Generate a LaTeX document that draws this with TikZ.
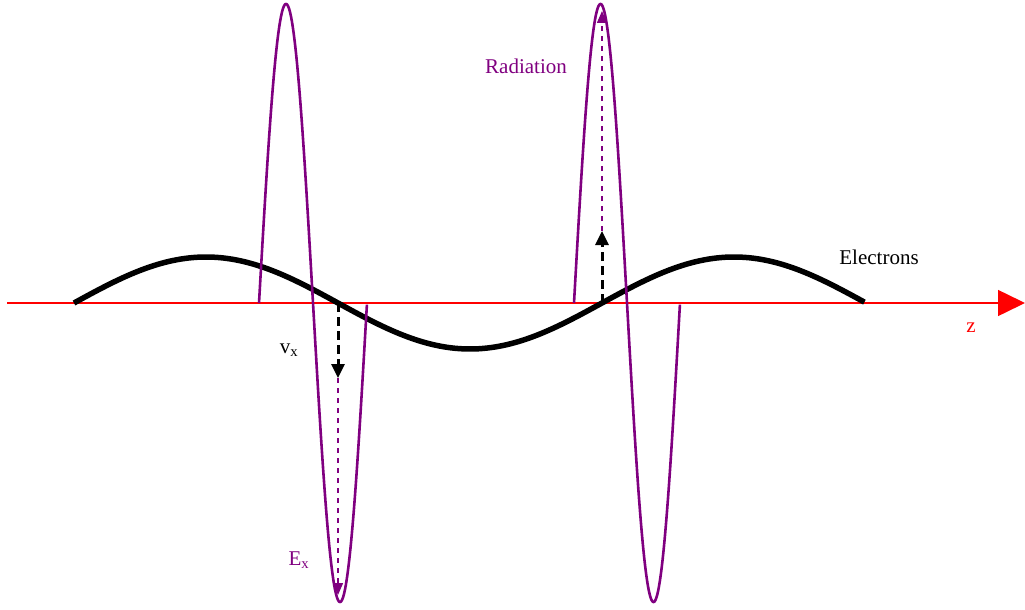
\documentclass[tikz,border=0pt]{standalone}
\usepackage{fontspec}
\setmainfont{Liberation Serif}
\usetikzlibrary{arrows.meta}
\definecolor{radpurple}{RGB}{128,0,128}
\definecolor{axisred}{RGB}{255,0,0}
\begin{document}
\begin{tikzpicture}[x=1pt,y=-1pt,
  lbl/.style={inner sep=0pt, font=\fontsize{21}{25}\selectfont},
  pulse/.style={radpurple, line width=2.6pt, line join=round},
  electron/.style={black, line width=5.5pt},
  vel/.style={black, line width=3pt, dash pattern=on 9pt off 5pt, -{Triangle[length=14pt,width=13pt]}},
  field/.style={radpurple, line width=1.4pt, dash pattern=on 5pt off 5pt, -{Triangle[length=12pt,width=10pt]}}]
\useasboundingbox (0,0) rectangle (1025,610);
% axis
\coordinate (axL) at (7,303);
\coordinate (axR) at (1025,303);
\draw[axisred, line width=1.5pt, -{Triangle[length=27pt,width=26pt]}] (axL) -- (axR);
% electrons
\draw[electron, domain=0:1.5, samples=200, variable=\t]
  plot ({74+528*\t},{303-46*sin(360*\t)});
% radiation pulses
\draw[pulse, domain=0:1, samples=300, variable=\t]
  plot ({259+108*\t},{303-299*sin(360*\t)});
\draw[pulse, domain=0:1, samples=300, variable=\t]
  plot ({574+106*\t},{303-299*sin(360*\t)});
% arrows
\coordinate (v1s) at (338,303);
\coordinate (v1e) at (338,378);
\coordinate (e1e) at (338,595);
\coordinate (v2s) at (602,303);
\coordinate (v2e) at (602,231);
\coordinate (e2e) at (602,11);
\draw[field] (v1e) -- (e1e);
\draw[field] (v2e) -- (e2e);
\draw[vel] (v1s) -- (v1e);
\draw[vel] (v2s) -- (v2e);
% labels
\node[lbl, radpurple] (rad) at (526,66) {Radiation};
\node[lbl] (ele) at (879,257) {Electrons};
\node[lbl, axisred] (z) at (971,328) {z};
\node[lbl] (vx) at (289,350) {v\textsubscript{x}};
\node[lbl, radpurple] (ex) at (299,560) {E\textsubscript{x}};
\end{tikzpicture}
\end{document}
